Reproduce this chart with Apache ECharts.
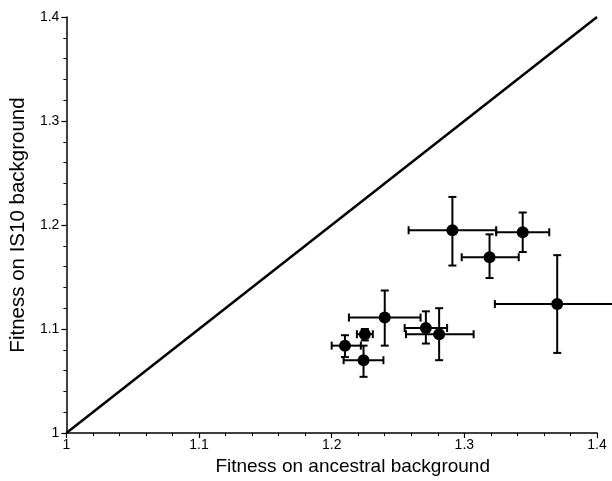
<!DOCTYPE html>
<html>
<head>
<meta charset="utf-8">
<script src="https://cdn.jsdelivr.net/npm/echarts@6/dist/echarts.min.js"></script>
<style>
  html, body { margin: 0; padding: 0; background: #fff; }
  #main { width: 612px; height: 481px; }
</style>
</head>
<body>
<div id="main"></div>
<script>
// fitness values
var xVals = [1.291, 1.344, 1.319, 1.370, 1.240, 1.271, 1.281, 1.225, 1.210, 1.224];
var yVals = [1.195, 1.193, 1.169, 1.124, 1.111, 1.101, 1.095, 1.095, 1.084, 1.070];
var xLow  = [1.258, 1.324, 1.298, 1.323, 1.213, 1.255, 1.256, 1.219, 1.200, 1.209];
var xHigh = [1.324, 1.364, 1.341, 1.418, 1.267, 1.287, 1.307, 1.231, 1.222, 1.239];
var yLow  = [1.161, 1.174, 1.149, 1.077, 1.084, 1.086, 1.070, 1.089, 1.073, 1.054];
var yHigh = [1.227, 1.212, 1.191, 1.171, 1.137, 1.117, 1.120, 1.100, 1.094, 1.084];
var diag = [[1, 1], [1.4, 1.4]];
var ticks = [1, 1.1, 1.2, 1.3, 1.4];

var pts = [];
var errData = [];
for (var i = 0; i < xVals.length; i++) {
  pts.push([xVals[i], yVals[i]]);
  errData.push([xVals[i], yVals[i], xLow[i], xHigh[i], yLow[i], yHigh[i]]);
}

function fmt(v) {
  var s = Math.round(v * 10) / 10;
  return s === 1 ? '1' : s.toFixed(1);
}

var font = 'Liberation Sans, Arial, Helvetica, sans-serif';

// draw error bars with caps
function renderErr(params, api) {
  var c = api.coord([api.value(0), api.value(1)]);
  var l = api.coord([api.value(2), api.value(1)]);
  var r = api.coord([api.value(3), api.value(1)]);
  var b = api.coord([api.value(0), api.value(4)]);
  var t = api.coord([api.value(0), api.value(5)]);
  var cap = 4;
  var st = { stroke: '#000', lineWidth: 2 };
  return {
    type: 'group',
    children: [
      { type: 'line', shape: { x1: l[0], y1: c[1], x2: r[0], y2: c[1] }, style: st },
      { type: 'line', shape: { x1: l[0], y1: c[1] - cap, x2: l[0], y2: c[1] + cap }, style: st },
      { type: 'line', shape: { x1: r[0], y1: c[1] - cap, x2: r[0], y2: c[1] + cap }, style: st },
      { type: 'line', shape: { x1: c[0], y1: b[1], x2: c[0], y2: t[1] }, style: st },
      { type: 'line', shape: { x1: c[0] - cap, y1: b[1], x2: c[0] + cap, y2: b[1] }, style: st },
      { type: 'line', shape: { x1: c[0] - cap, y1: t[1], x2: c[0] + cap, y2: t[1] }, style: st }
    ]
  };
}

var myChart = echarts.init(document.getElementById('main'));
var option = {
  animation: false,
  backgroundColor: '#fff',
  grid: { left: 64, right: 15, top: 17, bottom: 44, containLabel: false },
  xAxis: {
    type: 'value', min: 1, max: 1.4, interval: 0.1,
    name: 'Fitness on ancestral background',
    nameLocation: 'middle', nameGap: 24,
    nameTextStyle: { fontFamily: font, fontSize: 19, color: '#000', padding: [0, 0, 0, 42] },
    axisLine: { show: true, onZero: false, lineStyle: { color: '#000', width: 1.5 } },
    axisTick: { show: true, length: 5, lineStyle: { color: '#000', width: 1.2 } },
    minorTick: { show: true, splitNumber: 5, length: 3, lineStyle: { color: '#000', width: 1 } },
    splitLine: { show: false },
    axisLabel: { formatter: fmt, margin: 5, fontFamily: font, fontSize: 14, color: '#000' }
  },
  yAxis: {
    type: 'value', min: 1, max: 1.4, interval: 0.1,
    name: 'Fitness on IS10 background',
    nameLocation: 'middle', nameGap: 25, nameRotate: 90,
    nameTextStyle: { fontFamily: font, fontSize: 20.5, color: '#000' },
    axisLine: { show: true, onZero: false, lineStyle: { color: '#000', width: 1.5 } },
    axisTick: { show: true, length: 5, lineStyle: { color: '#000', width: 1.2 } },
    minorTick: { show: true, splitNumber: 5, length: 3, lineStyle: { color: '#000', width: 1 } },
    splitLine: { show: false },
    axisLabel: { formatter: fmt, margin: 7, fontFamily: font, fontSize: 14, color: '#000' }
  },
  series: [
    {
      type: 'line', data: diag, symbol: 'none',
      lineStyle: { color: '#000', width: 2.5 }
    },
    {
      type: 'custom', renderItem: renderErr, data: errData,
      encode: { x: [0, 2, 3], y: [1, 4, 5] }, clip: false, z: 3
    },
    {
      type: 'scatter', data: pts, symbol: 'circle', symbolSize: 12,
      itemStyle: { color: '#000', opacity: 1 }, z: 4
    }
  ]
};
myChart.setOption(option);
</script>
</body>
</html>
